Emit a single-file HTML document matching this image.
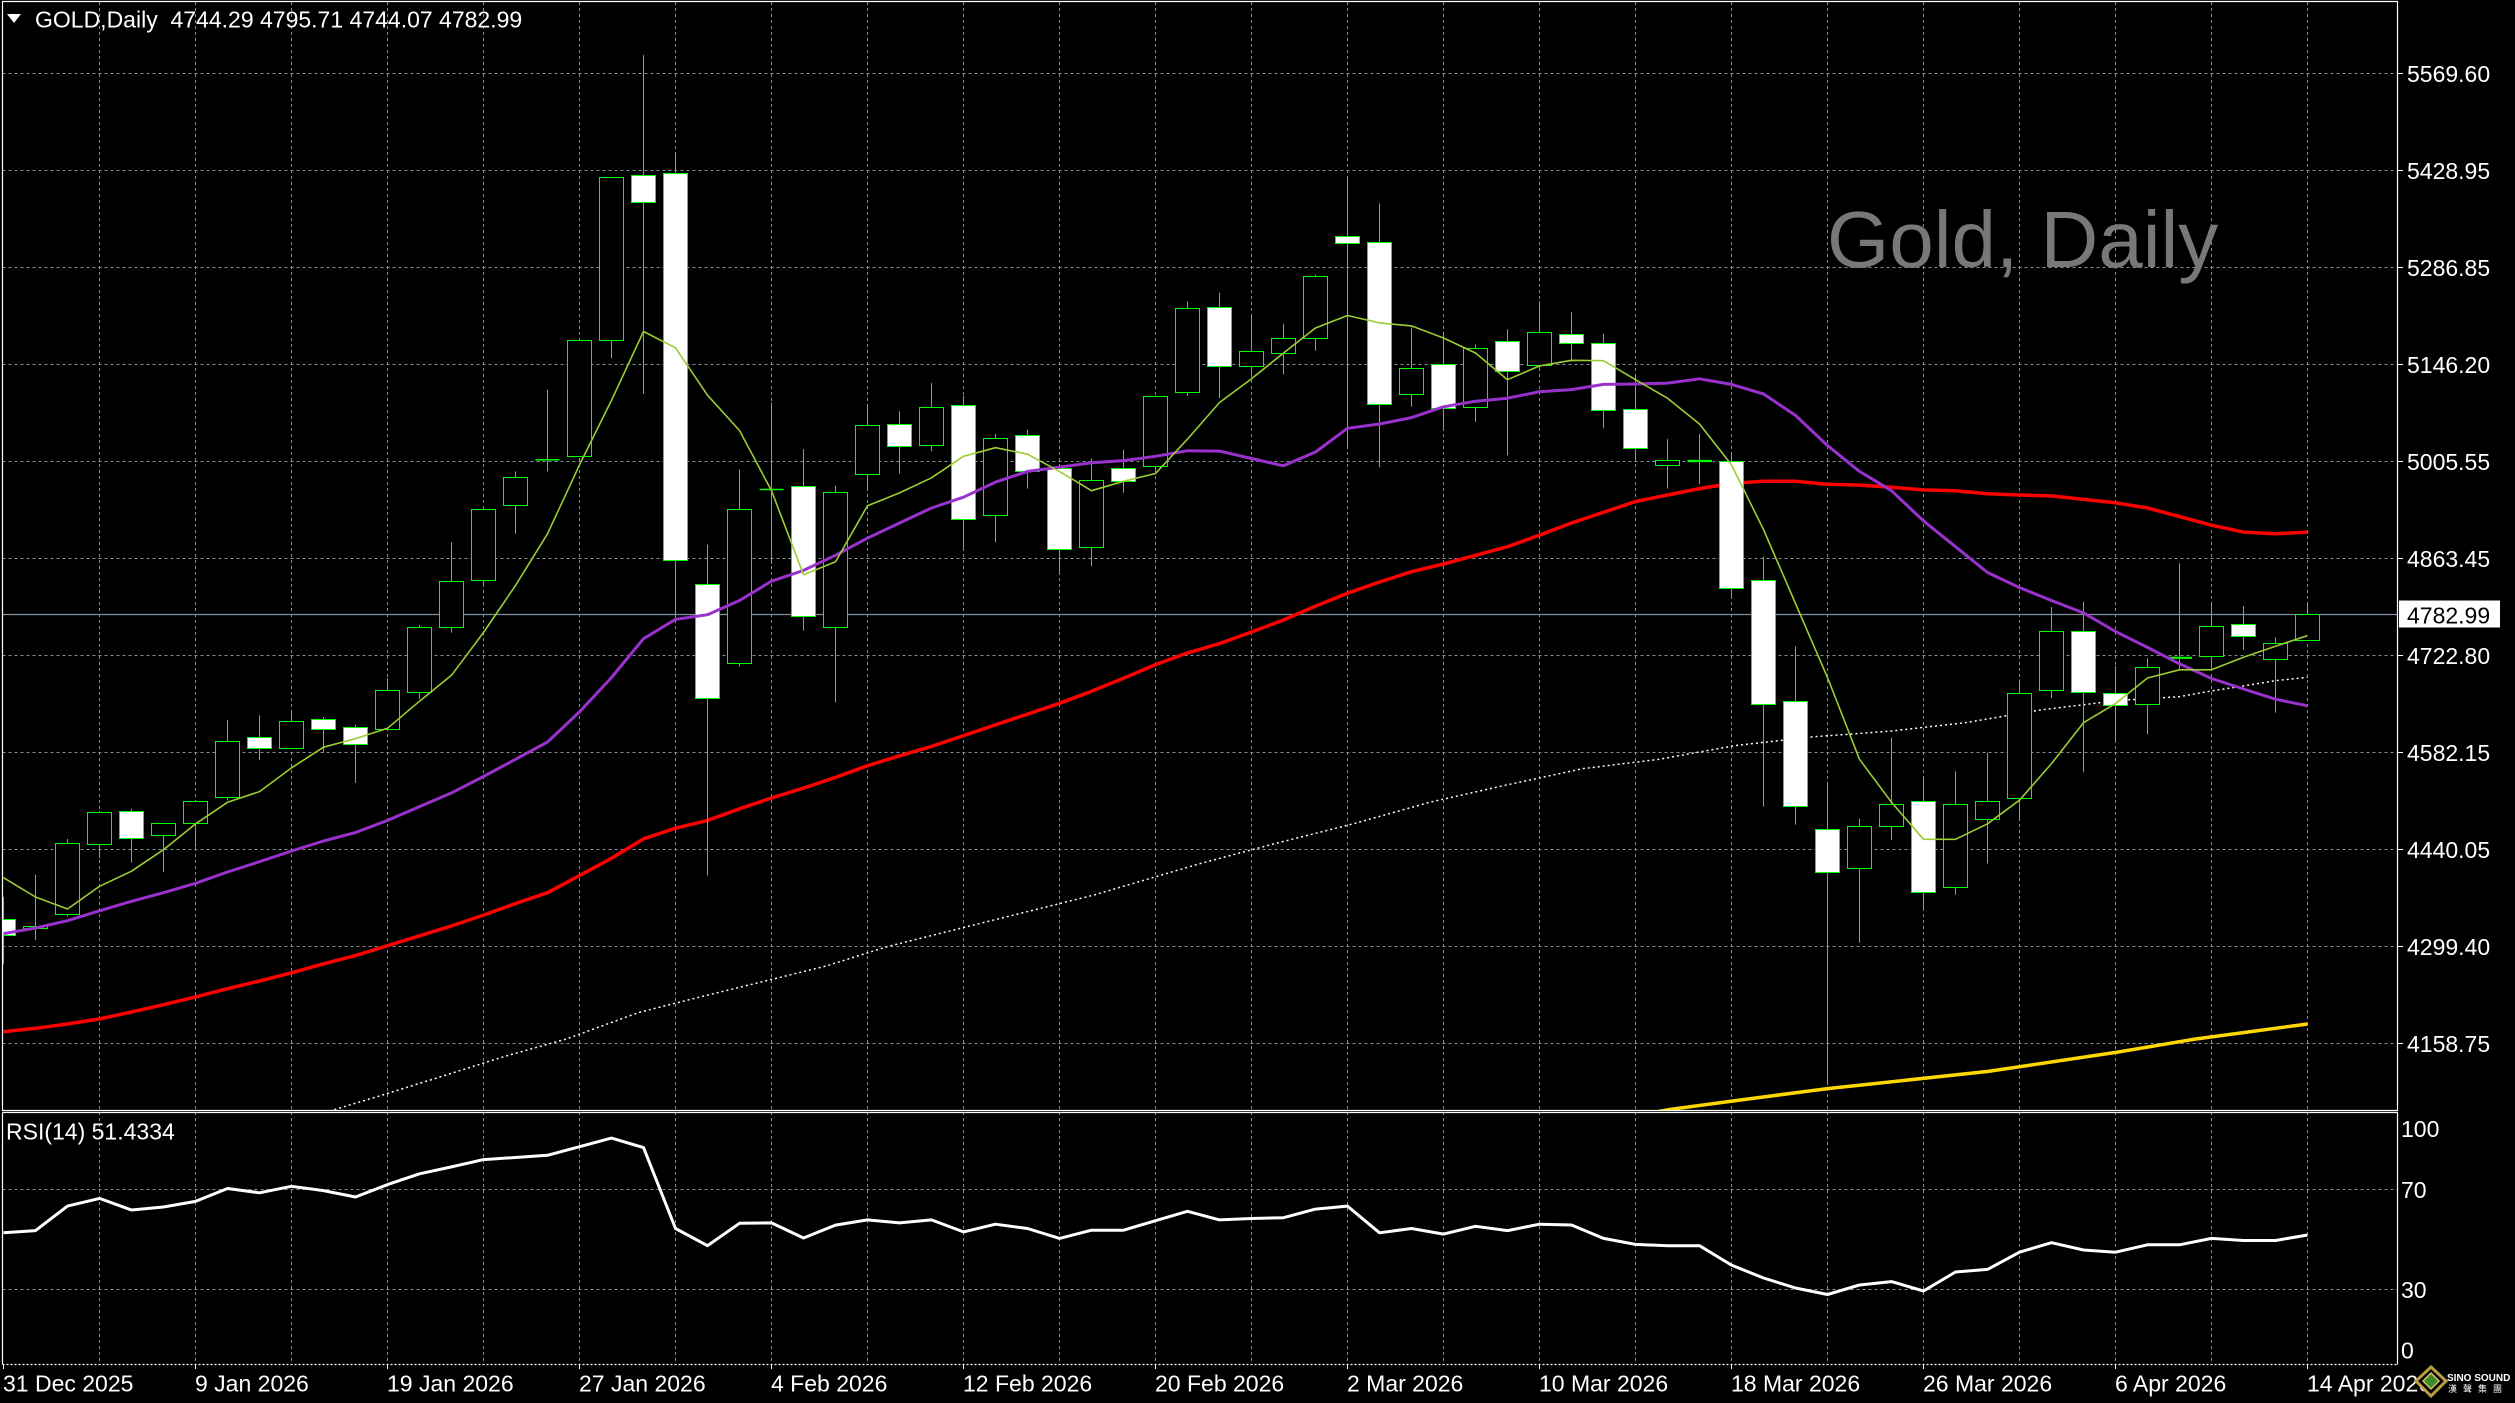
<!DOCTYPE html>
<html><head><meta charset="utf-8">
<style>
html,body{margin:0;padding:0;background:#000;width:2515px;height:1403px;overflow:hidden}
svg{display:block}
.t{font-family:"Liberation Sans",Arial,sans-serif;font-size:23px;fill:#fff}
</style></head>
<body>
<svg width="2515" height="1403" viewBox="0 0 2515 1403" xmlns="http://www.w3.org/2000/svg">
<defs>
<clipPath id="cm"><rect x="2.5" y="2" width="2394.5" height="1108"/></clipPath>
<clipPath id="cr"><rect x="2.5" y="1113" width="2394.5" height="251"/></clipPath>
</defs>
<rect x="0" y="0" width="2515" height="1403" fill="#000"/>

<!-- vertical grid -->
<path fill="none" stroke="#7f8fa0" stroke-width="1" stroke-dasharray="3 3" d="M99.5 2V1364M195.5 2V1364M291.5 2V1364M387.5 2V1364M483.5 2V1364M579.5 2V1364M675.5 2V1364M771.5 2V1364M867.5 2V1364M963.5 2V1364M1059.5 2V1364M1155.5 2V1364M1251.5 2V1364M1347.5 2V1364M1443.5 2V1364M1539.5 2V1364M1635.5 2V1364M1731.5 2V1364M1827.5 2V1364M1923.5 2V1364M2019.5 2V1364M2115.5 2V1364M2211.5 2V1364M2307.5 2V1364"/>
<!-- horizontal grid main -->
<path fill="none" stroke="#7f8fa0" stroke-width="1" stroke-dasharray="3 3" d="M2.5 73.5H2397M2.5 170.5H2397M2.5 267.5H2397M2.5 364.5H2397M2.5 461.5H2397M2.5 558.5H2397M2.5 655.5H2397M2.5 752.5H2397M2.5 849.5H2397M2.5 946.5H2397M2.5 1043.5H2397M2.5 1189.5H2397M2.5 1289.5H2397"/>
<!-- axis ticks -->
<path fill="none" stroke="#fff" stroke-width="1" d="M2397 73.5H2403M2397 170.5H2403M2397 267.5H2403M2397 364.5H2403M2397 461.5H2403M2397 558.5H2403M2397 655.5H2403M2397 752.5H2403M2397 849.5H2403M2397 946.5H2403M2397 1043.5H2403M3.5 1364V1369M195.5 1364V1369M387.5 1364V1369M579.5 1364V1369M771.5 1364V1369M963.5 1364V1369M1155.5 1364V1369M1347.5 1364V1369M1539.5 1364V1369M1731.5 1364V1369M1923.5 1364V1369M2115.5 1364V1369M2307.5 1364V1369"/>

<!-- watermark -->
<text x="1827" y="267" style="font-family:'Liberation Sans',Arial,sans-serif;font-size:80px;fill:#787878">Gold, Daily</text>

<g clip-path="url(#cm)">
<!-- current price line -->
<path d="M2.5 614.5H2397" stroke="#8090a0" stroke-width="1.2" fill="none"/>
<!-- MA white dotted -->
<polyline fill="none" stroke="#fff" stroke-width="1.5" stroke-dasharray="2 3" points="320,1114 382.6,1095 443.9,1075.7 505,1056.3 566.3,1039 639,1012.4 704,996 765.3,981 826.5,965.9 887.7,946.5 956.6,929.3 1025.5,912.1 1094.4,894.9 1200,863.6 1276.5,843.2 1353,823.9 1429.6,802.3 1506,785.1 1582.6,768.7 1659,759.3 1735.7,745.5 1812.2,736.9 1888.7,731.3 1965.3,722.7 2041.8,709.8 2118.3,700.5 2179.3,696.7 2211.3,691 2243.3,686 2275.3,680.7 2307.5,677.3"/>
<!-- MA yellow -->
<polyline fill="none" stroke="#ffd700" stroke-width="3.5" points="1650,1113 1670.7,1109.3 1735.7,1100.6 1827.5,1088.6 1988.2,1071.4 2118.3,1052 2194.9,1039.1 2307.5,1024"/>
<!-- MA red -->
<polyline fill="none" stroke="#ff0000" stroke-width="3.5" stroke-linejoin="round" points="3.5,1031.8 35.5,1028.3 67.5,1024 99.5,1018.9 131.5,1012 163.5,1004.7 195.5,996.9 227.5,988.7 259.5,981 291.5,972.8 323.5,963.8 355.5,955.6 387.5,945.7 419.5,935.8 451.5,925.9 483.5,915.1 515.5,903.5 547.5,892.7 579.5,875.5 611.5,858.3 643.5,838.9 675.5,828.2 707.5,820.4 739.5,808.8 771.5,798 803.5,788.1 835.5,777.4 867.5,765.7 899.5,755.8 931.5,746.4 963.5,735.6 995.5,724.8 1027.5,714.1 1059.5,703.3 1091.5,691.3 1123.5,678.3 1155.5,664.6 1187.5,652.9 1219.5,643.6 1251.5,632 1283.5,620 1315.5,606.1 1347.5,593.2 1379.5,582 1411.5,571.7 1443.5,564 1475.5,555.3 1507.5,546.7 1539.5,535.1 1571.5,523 1603.5,512.3 1635.5,501.5 1667.5,495 1699.5,488.6 1731.5,483.4 1763.5,481.3 1795.5,481.3 1827.5,484.3 1859.5,485.1 1891.5,487.3 1923.5,489.9 1955.5,490.7 1987.5,493.8 2019.5,495 2051.5,495.9 2083.5,499.4 2115.5,502.8 2147.5,508 2179.5,516.6 2211.5,525.2 2243.5,532.1 2275.5,533.8 2307.5,532.1"/>

<!-- wicks -->
<path fill="none" stroke="#00ff00" stroke-width="1" d="M3.5 897V963.8M35.5 874.6V940M67.5 839V916.4M99.5 811V858.3M131.5 808.8V862.6M163.5 823V872M195.5 800.2V847.5M227.5 719.7V800.2M259.5 715.4V760.1M291.5 711V749M323.5 717.1V752.8M355.5 724.8V783M387.5 678.3V729.1M419.5 625V699M451.5 542.4V632.8M483.5 509.3V585M515.5 471.4V533.8M547.5 389.6V471.4M579.5 340V456.3M611.5 177V358.2M643.5 55.1V393.9M675.5 152.8V620.7M707.5 544.6V875.5M739.5 469.2V666.7M771.5 402.5V564M803.5 449V630.6M835.5 485.6V702.5M867.5 404.6V490.7M899.5 411.1V473.5M931.5 383.1V451.1M963.5 396V551M995.5 434V542.4M1027.5 429.6V488.6M1059.5 465V574.7M1091.5 458.5V566.1M1123.5 449.9V492.9M1155.5 396V473.5M1187.5 301.3V396M1219.5 292.7V398.2M1251.5 314.3V374.5M1283.5 323.7V374.5M1315.5 274.6V350.8M1347.5 176.5V447.7M1379.5 203.6V467.1M1411.5 327.2V406.8M1443.5 331.5V430.5M1475.5 344.4V421.9M1507.5 329.3V455.4M1539.5 301.3V368.1M1571.5 312.1V361.6M1603.5 333.6V428.3M1635.5 374.5V459.8M1667.5 439.1V488.6M1699.5 434V484M1731.5 452.7V598.4M1763.5 556.6V806.6M1795.5 646.5V824.7M1827.5 783V1084.3M1859.5 818.7V942.7M1891.5 737.8V840.2M1923.5 776.5V909.9M1955.5 771.3V894.9M1987.5 752.8V863.5M2019.5 679.6V820.4M2051.5 607V698.1M2083.5 601.8V772.2M2115.5 666V741.7M2147.5 658.3V734.3M2179.5 563.3V670M2211.5 602V670M2243.5 606V650M2275.5 637.3V712.7M2307.5 602.7V640.3"/>

<!-- bull bodies (hollow) -->
<g fill="#000" stroke="#00ff00" stroke-width="1">
<rect x="23.5" y="926.5" width="24" height="2"/>
<rect x="55.5" y="843.5" width="24" height="71"/>
<rect x="87.5" y="812.5" width="24" height="32"/>
<rect x="151.5" y="823.5" width="24" height="12"/>
<rect x="183.5" y="801.5" width="24" height="22"/>
<rect x="215.5" y="741.5" width="24" height="56"/>
<rect x="279.5" y="721.5" width="24" height="27"/>
<rect x="375.5" y="690.5" width="24" height="39"/>
<rect x="407.5" y="627.5" width="24" height="65"/>
<rect x="439.5" y="581.5" width="24" height="46"/>
<rect x="471.5" y="509.5" width="24" height="71"/>
<rect x="503.5" y="477.5" width="24" height="28"/>
<rect x="567.5" y="340.5" width="24" height="116"/>
<rect x="599.5" y="177.5" width="24" height="163"/>
<rect x="727.5" y="509.5" width="24" height="154"/>
<rect x="823.5" y="492.5" width="24" height="135"/>
<rect x="855.5" y="425.5" width="24" height="49"/>
<rect x="919.5" y="407.5" width="24" height="38"/>
<rect x="983.5" y="438.5" width="24" height="77"/>
<rect x="1079.5" y="480.5" width="24" height="67"/>
<rect x="1143.5" y="396.5" width="24" height="70"/>
<rect x="1175.5" y="308.5" width="24" height="84"/>
<rect x="1239.5" y="351.5" width="24" height="15"/>
<rect x="1271.5" y="338.5" width="24" height="15"/>
<rect x="1303.5" y="276.5" width="24" height="62"/>
<rect x="1399.5" y="368.5" width="24" height="26"/>
<rect x="1463.5" y="348.5" width="24" height="59"/>
<rect x="1527.5" y="332.5" width="24" height="33"/>
<rect x="1655.5" y="460.5" width="24" height="5"/>
<rect x="1847.5" y="826.5" width="24" height="42"/>
<rect x="1879.5" y="804.5" width="24" height="22"/>
<rect x="1943.5" y="804.5" width="24" height="83"/>
<rect x="1975.5" y="801.5" width="24" height="18"/>
<rect x="2007.5" y="693.5" width="24" height="105"/>
<rect x="2039.5" y="631.5" width="24" height="59"/>
<rect x="2135.5" y="667.5" width="24" height="37"/>
<rect x="2199.5" y="626.5" width="24" height="30"/>
<rect x="2263.5" y="643.5" width="24" height="16"/>
<rect x="2295.5" y="614.5" width="24" height="26"/>
</g>
<!-- bear bodies (white) -->
<g fill="#fff" stroke="#00ff00" stroke-width="1">
<rect x="-8.5" y="919.5" width="24" height="16"/>
<rect x="119.5" y="811.5" width="24" height="27"/>
<rect x="247.5" y="737.5" width="24" height="11"/>
<rect x="311.5" y="719.5" width="24" height="10"/>
<rect x="343.5" y="727.5" width="24" height="17"/>
<rect x="631.5" y="175.5" width="24" height="27"/>
<rect x="663.5" y="173.5" width="24" height="387"/>
<rect x="695.5" y="584.5" width="24" height="114"/>
<rect x="791.5" y="486.5" width="24" height="130"/>
<rect x="887.5" y="424.5" width="24" height="22"/>
<rect x="951.5" y="405.5" width="24" height="114"/>
<rect x="1015.5" y="435.5" width="24" height="36"/>
<rect x="1047.5" y="468.5" width="24" height="81"/>
<rect x="1111.5" y="468.5" width="24" height="13"/>
<rect x="1207.5" y="307.5" width="24" height="59"/>
<rect x="1335.5" y="236.5" width="24" height="7"/>
<rect x="1367.5" y="242.5" width="24" height="162"/>
<rect x="1431.5" y="364.5" width="24" height="44"/>
<rect x="1495.5" y="341.5" width="24" height="30"/>
<rect x="1559.5" y="334.5" width="24" height="9"/>
<rect x="1591.5" y="343.5" width="24" height="67"/>
<rect x="1623.5" y="409.5" width="24" height="39"/>
<rect x="1719.5" y="461.5" width="24" height="127"/>
<rect x="1751.5" y="580.5" width="24" height="124"/>
<rect x="1783.5" y="701.5" width="24" height="105"/>
<rect x="1815.5" y="829.5" width="24" height="43"/>
<rect x="1911.5" y="801.5" width="24" height="91"/>
<rect x="2071.5" y="631.5" width="24" height="61"/>
<rect x="2103.5" y="693.5" width="24" height="12"/>
<rect x="2231.5" y="624.5" width="24" height="12"/>
</g>
<!-- doji -->
<path fill="none" stroke="#00ff00" stroke-width="1.5" d="M535.5 459.8H559.5M759.5 489.5H783.5"/>
<path fill="none" stroke="#00ff00" stroke-width="2.2" d="M1687.5 461H1712M2168 657.8H2192"/>

<!-- MA purple -->
<polyline fill="none" stroke="#9932cc" stroke-width="3" stroke-linejoin="round" points="3.5,933.6 35.5,928 67.5,920.7 99.5,910.8 131.5,901.3 163.5,892.7 195.5,883.3 227.5,872 259.5,861.7 291.5,851 323.5,841 355.5,832.5 387.5,820.4 419.5,806.6 451.5,792.9 483.5,776.5 515.5,759.3 547.5,742 579.5,711.9 611.5,677.5 643.5,638.7 675.5,619.4 707.5,614.7 739.5,600.5 771.5,581.2 803.5,570.4 835.5,555.3 867.5,538.1 899.5,523 931.5,508 963.5,497.2 995.5,482.1 1027.5,471.4 1059.5,467.1 1091.5,462.8 1123.5,460.6 1155.5,456.3 1187.5,450.7 1219.5,451.1 1251.5,458.5 1283.5,465.8 1315.5,452 1347.5,428.3 1379.5,424 1411.5,417.6 1443.5,406.8 1475.5,401.2 1507.5,398.2 1539.5,391.7 1571.5,389.6 1603.5,384.4 1635.5,384 1667.5,383.1 1699.5,378.8 1731.5,384.4 1763.5,393.9 1795.5,415.4 1827.5,445.6 1859.5,471.4 1891.5,490.7 1923.5,520.9 1955.5,546.7 1987.5,572.5 2019.5,587.6 2051.5,600.5 2083.5,612.9 2115.5,631.5 2147.5,647.4 2179.5,663.8 2211.5,678.5 2243.5,689 2275.5,699.2 2307.5,705.8"/>
<!-- MA yellowgreen -->
<polyline fill="none" stroke="#9acd32" stroke-width="1.6" stroke-linejoin="round" points="3.5,877.7 35.5,897 67.5,909 99.5,886.3 131.5,871.2 163.5,849.7 195.5,823.9 227.5,802.3 259.5,791.6 291.5,767.9 323.5,747.2 355.5,738.6 387.5,728.3 419.5,701.2 451.5,675.3 483.5,632.5 515.5,585.5 547.5,533.8 579.5,464.9 611.5,400.3 643.5,331.5 675.5,347.8 707.5,395.2 739.5,430.5 771.5,490.7 803.5,574.7 835.5,561.8 867.5,505.8 899.5,492.9 931.5,477.8 963.5,456.3 995.5,447.7 1027.5,454.2 1059.5,471.4 1091.5,490.7 1123.5,481.3 1155.5,473.5 1187.5,439.1 1219.5,402.5 1251.5,378.8 1283.5,353 1315.5,328 1347.5,315.5 1379.5,322.9 1411.5,325.9 1443.5,338 1475.5,353 1507.5,379.7 1539.5,365.9 1571.5,360.3 1603.5,360.7 1635.5,379.7 1667.5,398.2 1699.5,424 1731.5,464.9 1763.5,529.5 1795.5,603.5 1827.5,677.5 1859.5,759.3 1891.5,802.3 1923.5,839.3 1955.5,839.3 1987.5,823.8 2019.5,800.2 2051.5,763.6 2083.5,722.7 2115.5,703.6 2147.5,678 2179.5,669.8 2211.5,669.8 2243.5,657.3 2275.5,646.2 2307.5,635.6"/>
</g>

<!-- RSI -->
<g clip-path="url(#cr)">
<polyline fill="none" stroke="#fff" stroke-width="3" stroke-linejoin="round" points="3.5,1232.8 35.5,1230.6 67.5,1206.1 99.5,1198.4 131.5,1210 163.5,1207 195.5,1201.4 227.5,1188.5 259.5,1192.8 291.5,1186.3 323.5,1190.6 355.5,1197 387.5,1184.6 419.5,1173.8 451.5,1166.9 483.5,1159.6 515.5,1157.5 547.5,1155.3 579.5,1146.7 611.5,1138.1 643.5,1147.6 675.5,1228.5 707.5,1245.7 739.5,1223.3 771.5,1222.9 803.5,1238 835.5,1225.1 867.5,1219.9 899.5,1222.9 931.5,1219.9 963.5,1231.9 995.5,1224.2 1027.5,1228.5 1059.5,1238.4 1091.5,1230.2 1123.5,1230.2 1155.5,1220.7 1187.5,1211.3 1219.5,1219.9 1251.5,1218.5 1283.5,1217.7 1315.5,1209.1 1347.5,1206.1 1379.5,1232.8 1411.5,1228.5 1443.5,1234.1 1475.5,1226.3 1507.5,1230.6 1539.5,1224.2 1571.5,1225 1603.5,1238.4 1635.5,1244.4 1667.5,1245.7 1699.5,1245.7 1731.5,1265.1 1763.5,1278 1795.5,1288 1827.5,1294.5 1859.5,1285 1891.5,1281.6 1923.5,1291 1955.5,1272 1987.5,1269.4 2019.5,1252.2 2051.5,1242.7 2083.5,1250 2115.5,1252.2 2147.5,1244.8 2179.5,1244.8 2211.5,1238.4 2243.5,1240.5 2275.5,1240.5 2307.5,1235"/>
</g>

<!-- frames -->
<path fill="none" stroke="#fff" stroke-width="1.2" d="M2.5 1.5H2397.5V1110.5H2.5ZM2.5 1112.5H2397.5V1364.5M2.5 1112.5V1364.5"/>
<path fill="none" stroke="#fff" stroke-width="1.2" stroke-dasharray="2 2" d="M2.5 1364.5H2397.5"/>

<!-- title -->
<polygon points="7,14 21,14 14,23" fill="#fff"/>
<text class="t" x="35" y="27.5" style="white-space:pre">GOLD,Daily  4744.29 4795.71 4744.07 4782.99</text>
<text class="t" x="6" y="1139.5">RSI(14) 51.4334</text>

<!-- price labels -->
<g class="t">
<text class="t" x="2407" y="82">5569.60</text>
<text class="t" x="2407" y="179">5428.95</text>
<text class="t" x="2407" y="276">5286.85</text>
<text class="t" x="2407" y="373">5146.20</text>
<text class="t" x="2407" y="470">5005.55</text>
<text class="t" x="2407" y="567">4863.45</text>
<text class="t" x="2407" y="664">4722.80</text>
<text class="t" x="2407" y="761">4582.15</text>
<text class="t" x="2407" y="858">4440.05</text>
<text class="t" x="2407" y="955">4299.40</text>
<text class="t" x="2407" y="1052">4158.75</text>
</g>
<rect x="2399" y="600.5" width="101" height="27" fill="#fff"/>
<text x="2407" y="623.3" style="font-family:'Liberation Sans',Arial,sans-serif;font-size:23px;fill:#000">4782.99</text>

<!-- RSI labels -->
<text class="t" x="2401" y="1137">100</text>
<text class="t" x="2401" y="1198">70</text>
<text class="t" x="2401" y="1298">30</text>
<text class="t" x="2401" y="1358.5">0</text>

<!-- date labels -->
<text class="t" x="3" y="1391.5">31 Dec 2025</text>
<text class="t" x="195" y="1391.5">9 Jan 2026</text>
<text class="t" x="387" y="1391.5">19 Jan 2026</text>
<text class="t" x="579" y="1391.5">27 Jan 2026</text>
<text class="t" x="771" y="1391.5">4 Feb 2026</text>
<text class="t" x="963" y="1391.5">12 Feb 2026</text>
<text class="t" x="1155" y="1391.5">20 Feb 2026</text>
<text class="t" x="1347" y="1391.5">2 Mar 2026</text>
<text class="t" x="1539" y="1391.5">10 Mar 2026</text>
<text class="t" x="1731" y="1391.5">18 Mar 2026</text>
<text class="t" x="1923" y="1391.5">26 Mar 2026</text>
<text class="t" x="2115" y="1391.5">6 Apr 2026</text>
<text class="t" x="2307" y="1391.5">14 Apr 2026</text>

<!-- logo -->
<polygon points="2431,1367 2446,1381 2431,1396 2416,1381" fill="#000" stroke="#b8a040" stroke-width="3"/>
<polygon points="2431,1373 2439,1381 2431,1389 2423,1381" fill="#3a8a2a" stroke="#d8c060" stroke-width="1.5"/>
<text x="2447" y="1381" style="font-family:'Liberation Sans',Arial,sans-serif;font-size:10px;font-weight:bold;fill:#fff">SINO SOUND</text>
<text x="2448" y="1392" style="font-family:'Liberation Sans','Noto Sans CJK TC',sans-serif;font-size:9px;fill:#fff;letter-spacing:6px">漢聲集團</text>
</svg>
</body></html>
